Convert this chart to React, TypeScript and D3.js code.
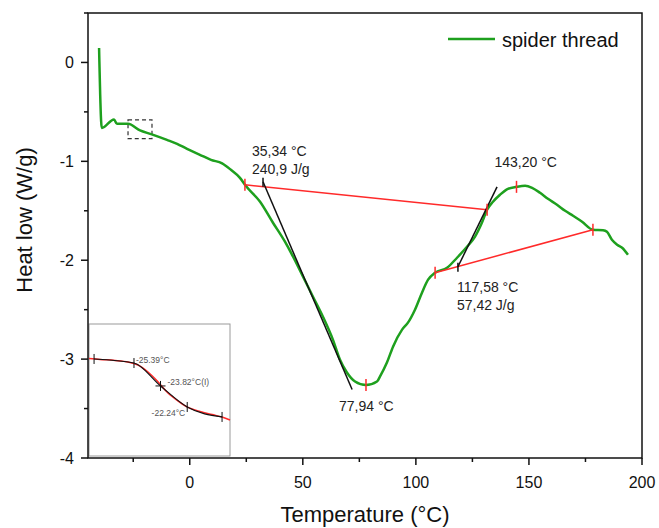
import React from "react";
import * as d3 from "d3";

// ---- main DSC curve (temperature °C, heat flow W/g) ----
const temperature = [
  -40.1, -38.9, -33.5, -32.2, -27.3, -22.0, -17.1, -10.1, -5.6, -1.2, 4.5, 9.4, 14.3, 18.2, 22.2,
  24.4, 31.1, 36.8, 42.1, 45.7, 50.1, 54.5, 58.9, 63.3, 66.4, 69.5, 73.1, 77.94, 82.8, 84.1,
  87.2, 89.9, 93.9, 96.5, 99.6, 102.7, 105.4, 108.5, 113.8, 118.2, 122.6, 126.1, 129.2, 131.5,
  134.1, 137.2, 140.7, 144.5, 148.3, 151.4, 154.9, 158.4, 162.4, 166.0, 169.5, 173.5, 178.3,
  182.8, 184.5, 186.7, 189.0, 191.2, 193.8,
];
const heatFlow = [
  0.146, -0.662, -0.576, -0.621, -0.621, -0.687, -0.725, -0.783, -0.823, -0.874, -0.934, -0.985,
  -1.02, -1.086, -1.167, -1.237, -1.409, -1.621, -1.813, -1.965, -2.167, -2.369, -2.571, -2.803,
  -3.005, -3.136, -3.227, -3.263, -3.227, -3.177, -3.035, -2.874, -2.702, -2.631, -2.5, -2.328,
  -2.197, -2.126, -2.076, -1.975, -1.864, -1.763, -1.621, -1.49, -1.409, -1.338, -1.278, -1.258,
  -1.247, -1.268, -1.318, -1.379, -1.439, -1.5, -1.551, -1.611, -1.692, -1.697, -1.712, -1.793,
  -1.843, -1.874, -1.944,
];

// ---- analysis lines ----
const baseline1T = [24.4, 131.5];
const baseline1H = [-1.237, -1.49];
const tangent1T = [32.4, 71.8];
const tangent1H = [-1.207, -3.308];
const baseline2T = [108.5, 178.3];
const baseline2H = [-2.126, -1.692];
const tangent2T = [118.6, 135.9];
const tangent2H = [-2.066, -1.258];
const redTickT = [24.4, 131.5, 77.94, 108.5, 178.3, 144.5];
const redTickH = [-1.237, -1.49, -3.263, -2.126, -1.692, -1.258];
const blackTickT = [32.4, 118.6];
const blackTickH = [-1.207, -2.066];

// annotation labels (anchored on data points)
const annoT = [32.4, 32.4, 144.5, 118.6, 118.6, 77.94];
const annoH = [-1.207, -1.207, -1.258, -2.066, -2.066, -3.263];
const annoText = ["35,34 °C", "240,9 J/g", "143,20 °C", "117,58 °C", "57,42 J/g", "77,94 °C"];
const annoDx = [-11, -11, -22, -1, -1, -27];
const annoDy = [-26, -8, -20, 25, 43, 26];

// zoom box on main curve
const boxT = [-27.3, -16.7];
const boxH = [-0.58, -0.77];

// ---- inset (glass transition detail) ----
const insetT = [-28.05, -27.4, -26.51, -25.74, -25.15, -24.56, -23.97, -23.38, -22.78, -22.19, -21.48, -20.77, -20.18, -19.71];
const insetH = [-0.6366, -0.6376, -0.6387, -0.6403, -0.6435, -0.6509, -0.6612, -0.6732, -0.6817, -0.6885, -0.6928, -0.696, -0.6986, -0.7018];
const insetFitT = [-27.75, -25.39, -23.82, -22.24, -20.18];
const insetFitH = [-0.6371, -0.6414, -0.6657, -0.688, -0.6986];
const insetLabelIdx = [1, 2, 3];
const insetLabels = ["-25.39°C", "-23.82°C(I)", "-22.24°C"];

const xTicks = [0, 50, 100, 150, 200];
const xMinor = [-25, 25, 75, 125, 175];
const yTicks = [0, -1, -2, -3, -4];
const yMinor = [0.5, -0.5, -1.5, -2.5, -3.5];

const FONT = "'Liberation Sans', Arial, Helvetica, sans-serif";
const GREEN = "#1ea01e";
const RED = "#ff2a2a";

export default function App() {
  const W = 659, H = 528;
  const left = 88, right = 642, top = 13, bottom = 458;
  const x = d3.scaleLinear().domain([-45, 200]).range([left, right]);
  const y = d3.scaleLinear().domain([-4, 0.5]).range([bottom, top]);

  const pts = temperature.map((t, i) => [t, heatFlow[i]] as [number, number]);
  const line = d3
    .line<[number, number]>()
    .x((d) => x(d[0]))
    .y((d) => y(d[1]))
    .curve(d3.curveMonotoneX);
  const seg = (T: number[], Hh: number[]) =>
    d3.line<number>().x((_, i) => x(T[i])).y((_, i) => y(Hh[i]))(T.map((_, i) => i)) || "";

  // inset scales
  const iL = 89, iR = 230, iT = 324, iB = 456;
  const ix = d3.scaleLinear().domain([-28.05, -19.71]).range([iL, iR]);
  const iy = d3.scaleLinear().domain([-0.74, -0.6]).range([iB, iT]);
  const iPts = insetT.map((t, i) => [t, insetH[i]] as [number, number]);
  const iLine = d3
    .line<[number, number]>()
    .x((d) => ix(d[0]))
    .y((d) => iy(d[1]))
    .curve(d3.curveCatmullRom);
  const iFit = d3
    .line<[number, number]>()
    .x((d) => ix(d[0]))
    .y((d) => iy(d[1]))
    .curve(d3.curveMonotoneX);
  const fitPts = insetFitT.map((t, i) => [t, insetFitH[i]] as [number, number]);

  return (
    <svg
      width={W}
      height={H}
      style={{ position: "absolute", left: 0, top: 0, background: "#fff" }}
      fontFamily={FONT}
    >
      <rect x={0} y={0} width={W} height={H} fill="#fff" />

      {/* inset */}
      <g>
        <rect x={iL} y={iT} width={iR - iL} height={iB - iT} fill="#fff" stroke="#9a9a9a" strokeWidth={1} />
        <path d={iLine(iPts) || ""} fill="none" stroke={RED} strokeWidth={1.5} />
        <path d={iFit(fitPts) || ""} fill="none" stroke="#111" strokeWidth={1.2} />
        {insetFitT.map((t, i) => (
          <g key={i}>
            <line x1={ix(t)} x2={ix(t)} y1={iy(insetFitH[i]) - 5} y2={iy(insetFitH[i]) + 5} stroke="#111" strokeWidth={1} />
            {i === 2 && (
              <line x1={ix(t) - 5} x2={ix(t) + 5} y1={iy(insetFitH[i])} y2={iy(insetFitH[i])} stroke="#111" strokeWidth={1} />
            )}
          </g>
        ))}
        {insetLabelIdx.map((k, j) => {
          const px = ix(insetFitT[k]);
          const py = iy(insetFitH[k]);
          const props =
            j === 0
              ? { x: px + 2, y: py, anchor: "start" }
              : j === 1
              ? { x: px + 7, y: py - 1, anchor: "start" }
              : { x: px - 2, y: py + 9, anchor: "end" };
          return (
            <text key={k} x={props.x} y={props.y} fontSize={8.5} fill="#555" textAnchor={props.anchor as any}>
              {insetLabels[j]}
            </text>
          );
        })}
      </g>

      {/* dashed zoom box */}
      <rect
        x={x(boxT[0])}
        y={y(boxH[0])}
        width={x(boxT[1]) - x(boxT[0])}
        height={y(boxH[1]) - y(boxH[0])}
        fill="none"
        stroke="#333"
        strokeWidth={1.2}
        strokeDasharray="4,3"
      />

      {/* main curve */}
      <path d={line(pts) || ""} fill="none" stroke={GREEN} strokeWidth={2.5} strokeLinejoin="round" />

      {/* analysis lines */}
      <path d={seg(baseline1T, baseline1H)} stroke={RED} strokeWidth={1.5} fill="none" />
      <path d={seg(baseline2T, baseline2H)} stroke={RED} strokeWidth={1.5} fill="none" />
      <path d={seg(tangent1T, tangent1H)} stroke="#111" strokeWidth={1.5} fill="none" />
      <path d={seg(tangent2T, tangent2H)} stroke="#111" strokeWidth={1.5} fill="none" />
      {redTickT.map((t, i) => (
        <line key={i} x1={x(t)} x2={x(t)} y1={y(redTickH[i]) - 6} y2={y(redTickH[i]) + 6} stroke={RED} strokeWidth={1.5} />
      ))}
      {blackTickT.map((t, i) => (
        <line key={i} x1={x(t)} x2={x(t)} y1={y(blackTickH[i]) - 4} y2={y(blackTickH[i]) + 5} stroke="#111" strokeWidth={1.5} />
      ))}
      {annoText.map((s, i) => (
        <text key={i} x={x(annoT[i]) + annoDx[i]} y={y(annoH[i]) + annoDy[i]} fontSize={14} fill="#222">
          {s}
        </text>
      ))}

      {/* frame */}
      <rect x={left} y={top} width={right - left} height={bottom - top} fill="none" stroke="#111" strokeWidth={1.5} />

      {/* x axis ticks */}
      {xTicks.map((t) => (
        <g key={t}>
          <line x1={x(t)} x2={x(t)} y1={bottom} y2={bottom + 7} stroke="#111" strokeWidth={1.5} />
          <text x={x(t)} y={bottom + 30} fontSize={16} textAnchor="middle" fill="#111">
            {t}
          </text>
        </g>
      ))}
      {xMinor.map((t) => (
        <line key={t} x1={x(t)} x2={x(t)} y1={bottom} y2={bottom + 4} stroke="#111" strokeWidth={1.5} />
      ))}

      {/* y axis ticks */}
      {yTicks.map((t) => (
        <g key={t}>
          <line x1={left - 7} x2={left} y1={y(t)} y2={y(t)} stroke="#111" strokeWidth={1.5} />
          <text x={left - 14} y={y(t)} dy="0.35em" fontSize={16} textAnchor="end" fill="#111">
            {t === 0 ? "0" : "-" + Math.abs(t)}
          </text>
        </g>
      ))}
      {yMinor.map((t) => (
        <line key={t} x1={left - 4} x2={left} y1={y(t)} y2={y(t)} stroke="#111" strokeWidth={1.5} />
      ))}

      {/* axis titles */}
      <text x={(left + right) / 2} y={522} fontSize={22} textAnchor="middle" fill="#111">
        Temperature (°C)
      </text>
      <text transform={`translate(32,220) rotate(-90)`} fontSize={22} textAnchor="middle" fill="#111">
        Heat low (W/g)
      </text>

      {/* legend */}
      <line x1={448} x2={495} y1={39} y2={39} stroke={GREEN} strokeWidth={2.5} />
      <text x={502} y={47} fontSize={20} fill="#111">
        spider thread
      </text>
    </svg>
  );
}
